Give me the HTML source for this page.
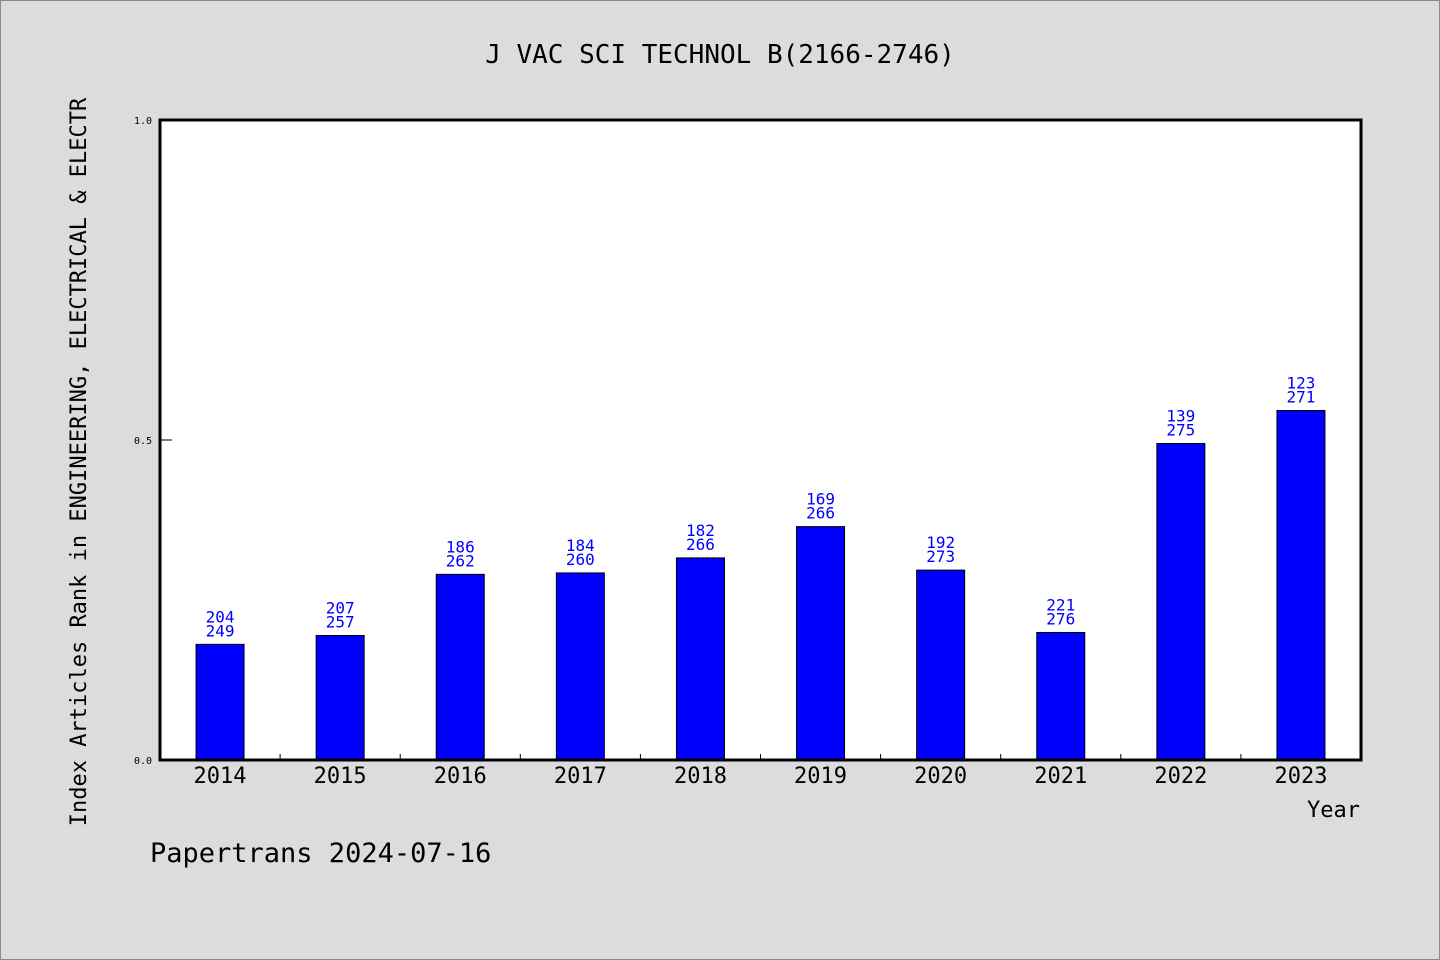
<!DOCTYPE html>
<html><head><meta charset="utf-8"><style>
html,body{margin:0;padding:0;background:#dcdcdc;}
svg{display:block;font-family:"DejaVu Sans Mono","Liberation Mono",monospace;}
</style></head><body>
<svg id="chart" width="1440" height="960" xmlns="http://www.w3.org/2000/svg">
<rect x="0.5" y="0.5" width="1439" height="959" fill="#dcdcdc" stroke="#888"/>
<text x="720" y="63" text-anchor="middle" font-size="26" fill="#000">J VAC SCI TECHNOL B(2166-2746)</text>
<rect x="160" y="120" width="1201" height="640" fill="#fff"/>
<g id="bars"></g>
<rect x="160" y="120" width="1201" height="640" fill="none" stroke="#000" stroke-width="3"/>
<g id="axes"></g>
<text transform="translate(86,462) rotate(-90)" text-anchor="middle" font-size="22" fill="#000">Index Articles Rank in ENGINEERING, ELECTRICAL &amp; ELECTR</text>
<text x="1360" y="817" text-anchor="end" font-size="22" fill="#000">Year</text>
<text x="150" y="862" font-size="27" fill="#000">Papertrans 2024-07-16</text>
</svg>
<script>
const years = ["2014","2015","2016","2017","2018","2019","2020","2021","2022","2023"];
const ranks = [204,207,186,184,182,169,192,221,139,123];
const totals = [249,257,262,260,266,266,273,276,275,271];
const yTicks = [0, 0.5, 1.0];
const yTickLabels = ["0.0","0.5","1.0"];

const NS="http://www.w3.org/2000/svg";
const X0=160, X1=1361, Y0=760, Y1=120;
const band=(X1-X0)/years.length;
function xc(i){return X0+band*(i+0.5);}
function yv(v){return Y0-(Y0-Y1)*v;}
function mk(tag,attrs,parent){const e=document.createElementNS(NS,tag);for(const k in attrs)e.setAttribute(k,attrs[k]);parent.appendChild(e);return e;}
const bars=document.getElementById('bars'), axes=document.getElementById('axes');
years.forEach((yr,i)=>{
  const v=(totals[i]-ranks[i])/totals[i];
  const bw=48, y=yv(v);
  const r=mk('rect',{x:xc(i)-bw/2,y:y,width:bw,height:Y0-y,fill:'#0000ff',stroke:'#000','stroke-width':1},bars);
  
  
  const t1=mk('text',{x:xc(i),y:y-22,'text-anchor':'middle','font-size':16,fill:'#0000ff'},bars);
  t1.textContent=ranks[i];
  
  
  const t2=mk('text',{x:xc(i),y:y-8,'text-anchor':'middle','font-size':16,fill:'#0000ff'},bars);
  t2.textContent=totals[i];
  
  
  const xl=mk('text',{x:xc(i),y:783,'text-anchor':'middle','font-size':22,fill:'#000'},axes);
  xl.textContent=yr;
  
  
  if(i>0){
    const tk=mk('line',{x1:X0+band*i,x2:X0+band*i,y1:Y0,y2:Y0-6,stroke:'#000','stroke-width':1},axes);
    
    
  }
});
yTicks.forEach((v,i)=>{
  const y=yv(v);
  const tk=mk('line',{x1:X0,x2:X0+12,y1:y,y2:y,stroke:'#000','stroke-width':1},axes);
  
  
  const tl=mk('text',{x:152,y:y+4,'text-anchor':'end','font-size':10,fill:'#000'},axes);
  tl.textContent=yTickLabels[i];
  
  
});
</script>
</body></html>
